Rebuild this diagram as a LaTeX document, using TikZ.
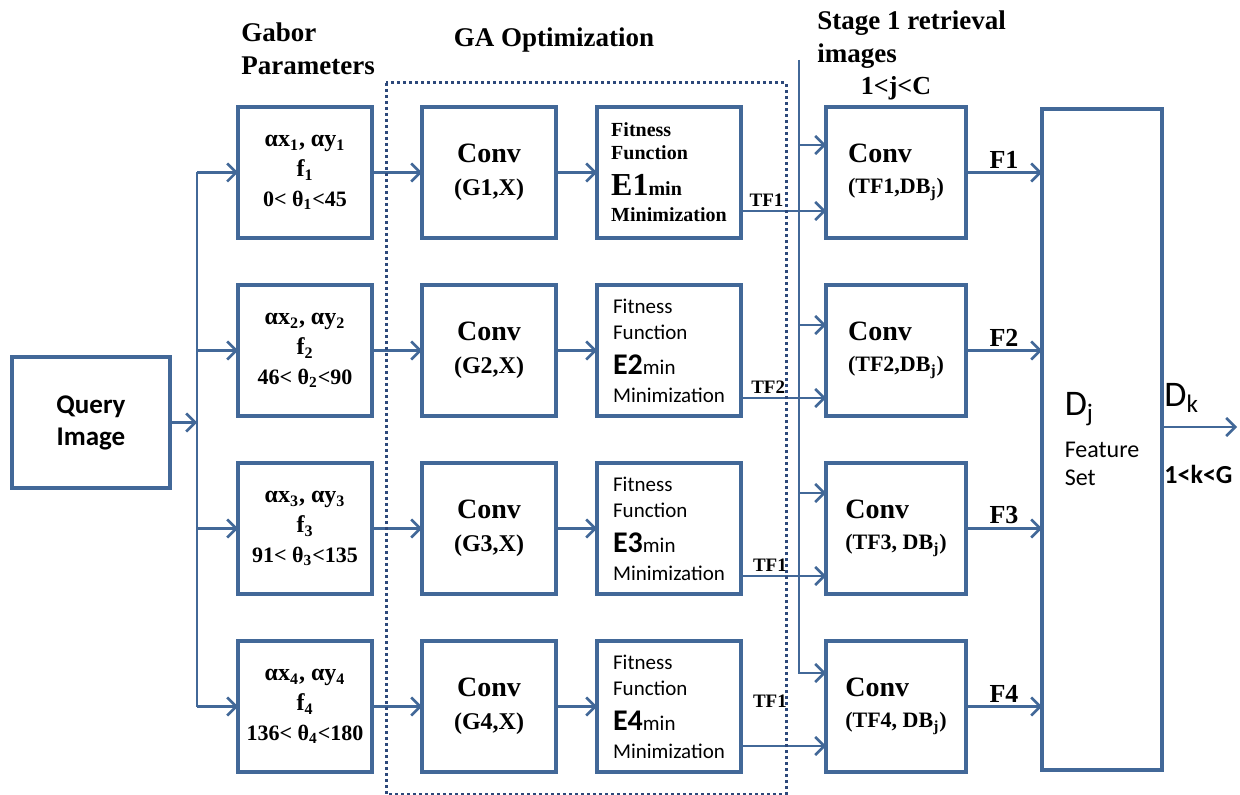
\documentclass[tikz,border=0pt]{standalone}
\usepackage{fontspec}
\setmainfont{Liberation Serif}
\newfontfamily\calibri{Carlito}
\usetikzlibrary{arrows.meta,positioning,calc}
\definecolor{lineblue}{RGB}{66,104,152}
\definecolor{dotblue}{RGB}{44,72,122}
\newcommand{\setfs}[2]{\fontsize{#1pt}{#2pt}\selectfont}

\begin{document}
\begin{tikzpicture}[x=0.5pt, y=-0.5pt, >={Straight Barb[length=4.5pt,width=9pt]}, node distance=23.5pt and 25pt, box/.style={draw=lineblue, line width=2pt, align=center, minimum height=65.5pt, inner sep=2pt, outer sep=0pt}, qbox/.style={box, minimum width=79pt, font=\calibri\bfseries\setfs{13.5}{16}}, gbox/.style={box, minimum width=67pt, font=\bfseries\setfs{12}{15}}, cbox/.style={box, minimum width=67pt, font=\bfseries\setfs{12}{16.5}}, fitbox/.style={box, minimum width=72pt, align=left, font=\rmfamily\bfseries\setfs{10}{11.5}}, fitboxs/.style={box, minimum width=72pt, align=left, font=\calibri\setfs{10.5}{13}}, sbox/.style={box, minimum width=70pt, align=left, font=\bfseries\setfs{11}{15.5}}, featbox/.style={box, minimum width=60pt, minimum height=330.5pt, align=left, font=\calibri\setfs{12}{14}}, arr/.style={->, draw=lineblue, line width=1.3pt}, link/.style={draw=lineblue, line width=1.3pt}, headtxt/.style={font=\bfseries\setfs{13.5}{16.5}, align=left, inner sep=0pt}, lab/.style={font=\bfseries\setfs{13}{15}, inner sep=1.5pt}, tflab/.style={font=\bfseries\setfs{9.5}{11}, inner sep=1.5pt}]
\useasboundingbox (0,0) rectangle (1240,795);
% headings
\node[headtxt, anchor=base west] (gtitle) at (241,75) {Gabor\\Parameters};
\node[headtxt, anchor=base] (gatitle) at (554,47) {GA Optimization};
\node[headtxt, anchor=base west] (stitle) at (817,63) {Stage 1 retrieval\\images};
% query and gabor parameter boxes
\node[qbox] (query) at (91,422.5) {Query\\Image};
\node[gbox] (gab1) at (305,172.5) {αx\textsubscript{1}, αy\textsubscript{1}\\f\textsubscript{1}\\\setfs{11}{13}0< θ\textsubscript{1}<45};
\node[gbox, below=of gab1] (gab2) {αx\textsubscript{2}, αy\textsubscript{2}\\f\textsubscript{2}\\\setfs{11}{13}46< θ\textsubscript{2}<90};
\node[gbox, below=of gab2] (gab3) {αx\textsubscript{3}, αy\textsubscript{3}\\f\textsubscript{3}\\\setfs{11}{13}91< θ\textsubscript{3}<135};
\node[gbox, below=of gab3] (gab4) {αx\textsubscript{4}, αy\textsubscript{4}\\f\textsubscript{4}\\\setfs{11}{13}136< θ\textsubscript{4}<180};
% GA optimization
\node[cbox, right=of gab1] (conv1) {{\setfs{14}{16}Conv}\\(G1,X)};
\node[cbox, right=of gab2] (conv2) {{\setfs{14}{16}Conv}\\(G2,X)};
\node[cbox, right=of gab3] (conv3) {{\setfs{14}{16}Conv}\\(G3,X)};
\node[cbox, right=of gab4] (conv4) {{\setfs{14}{16}Conv}\\(G4,X)};
\node[fitbox, right=20.5pt of conv1] (fit1) {Fitness\\Function\\[6.5pt]{\setfs{16}{18}E1}min\\[1.5pt]Minimization};
\node[fitboxs, right=20.5pt of conv2] (fit2) {Fitness\\Function\\[4.5pt]{\bfseries\setfs{15}{17}E2}min\\[1pt]Minimization};
\node[fitboxs, right=20.5pt of conv3] (fit3) {Fitness\\Function\\[4.5pt]{\bfseries\setfs{15}{17}E3}min\\[1pt]Minimization};
\node[fitboxs, right=20.5pt of conv4] (fit4) {Fitness\\Function\\[4.5pt]{\bfseries\setfs{15}{17}E4}min\\[1pt]Minimization};
% stage 1 retrieval
\node[sbox, right=42.5pt of fit1] (sc1) {{\setfs{14}{16}Conv}\\(TF1,DB\textsubscript{j})};
\node[sbox, right=42.5pt of fit2] (sc2) {{\setfs{14}{16}Conv}\\(TF2,DB\textsubscript{j})};
\node[sbox, right=42.5pt of fit3] (sc3) {{\setfs{14}{16}Conv}\\(TF3, DB\textsubscript{j})};
\node[sbox, right=42.5pt of fit4] (sc4) {{\setfs{14}{16}Conv}\\(TF4, DB\textsubscript{j})};
\node[lab, above=2pt of sc1] (jrange) {1<j<C};
\node[featbox] (feat) at (1102,439.5) {{\setfs{18}{20}D\textsubscript{j}}\\[7pt]Feature\\Set};
% query to gabor boxes
\coordinate (qsplit) at (197,422.5);
\draw[arr] (query) -- (qsplit);
\draw[link] (qsplit |- gab1.west) -- (qsplit |- gab4.west);
\draw[arr] (qsplit |- gab1.west) -- (gab1);
\draw[arr] (qsplit |- gab2.west) -- (gab2);
\draw[arr] (qsplit |- gab3.west) -- (gab3);
\draw[arr] (qsplit |- gab4.west) -- (gab4);
\draw[arr] (gab1) -- (conv1);
\draw[arr] (gab2) -- (conv2);
\draw[arr] (gab3) -- (conv3);
\draw[arr] (gab4) -- (conv4);
\draw[arr] (conv1) -- (fit1);
\draw[arr] (conv2) -- (fit2);
\draw[arr] (conv3) -- (fit3);
\draw[arr] (conv4) -- (fit4);
% retrieved images line
\coordinate (vtop) at (799,60);
\coordinate (in1) at ([yshift=-19pt]sc1.north west);
\coordinate (in2) at ([yshift=-20pt]sc2.north west);
\coordinate (in3) at ([yshift=-15pt]sc3.north west);
\coordinate (in4) at ([yshift=-16pt]sc4.north west);
\draw[arr] (vtop) |- (in4);
\draw[arr] (vtop |- in1) -- (in1);
\draw[arr] (vtop |- in2) -- (in2);
\draw[arr] (vtop |- in3) -- (in3);
% TF outputs
\coordinate (tf1) at ([yshift=13.5pt]fit1.south east);
\coordinate (tf2) at ([yshift=9pt]fit2.south east);
\coordinate (tf3) at ([yshift=9pt]fit3.south east);
\coordinate (tf4) at ([yshift=13pt]fit4.south east);
\draw[arr] (tf1) -- node[tflab, above, pos=0.3] {TF1} (tf1 -| sc1.west);
\draw[arr] (tf2) -- node[tflab, above, pos=0.32] {TF2} (tf2 -| sc2.west);
\draw[arr] (tf3) -- node[tflab, above, pos=0.34] {TF1} (tf3 -| sc3.west);
\draw[arr] (tf4) -- node[tflab, above, pos=0.34, yshift=17pt] {TF1} (tf4 -| sc4.west);
% features
\draw[arr] (sc1) -- node[lab, above] {F1} (sc1 -| feat.west);
\draw[arr] (sc2) -- node[lab, above] {F2} (sc2 -| feat.west);
\draw[arr] (sc3) -- node[lab, above] {F3} (sc3 -| feat.west);
\draw[arr] (sc4) -- node[lab, above] {F4} (sc4 -| feat.west);
\coordinate (dkend) at (1237,427);
\coordinate (dkstart) at (dkend -| feat.east);
\draw[arr] (dkstart) -- (dkend);
\node[font=\calibri\setfs{18}{20}, anchor=base west, inner sep=1pt] (dk) at ([yshift=10pt]dkstart) {D\textsubscript{k}};
\node[font=\calibri\bfseries\setfs{13}{15}, anchor=north west, inner sep=1pt] (krange) at ([yshift=-18pt]dkstart) {1<k<G};
% GA frame
\draw[dotblue, line width=1.5pt, dash pattern=on 1.4pt off 1.6pt] ($(conv1.north west)+(-36,-24)$) rectangle ($(fit4.south east)+(45,22)$);
\end{tikzpicture}
\end{document}
